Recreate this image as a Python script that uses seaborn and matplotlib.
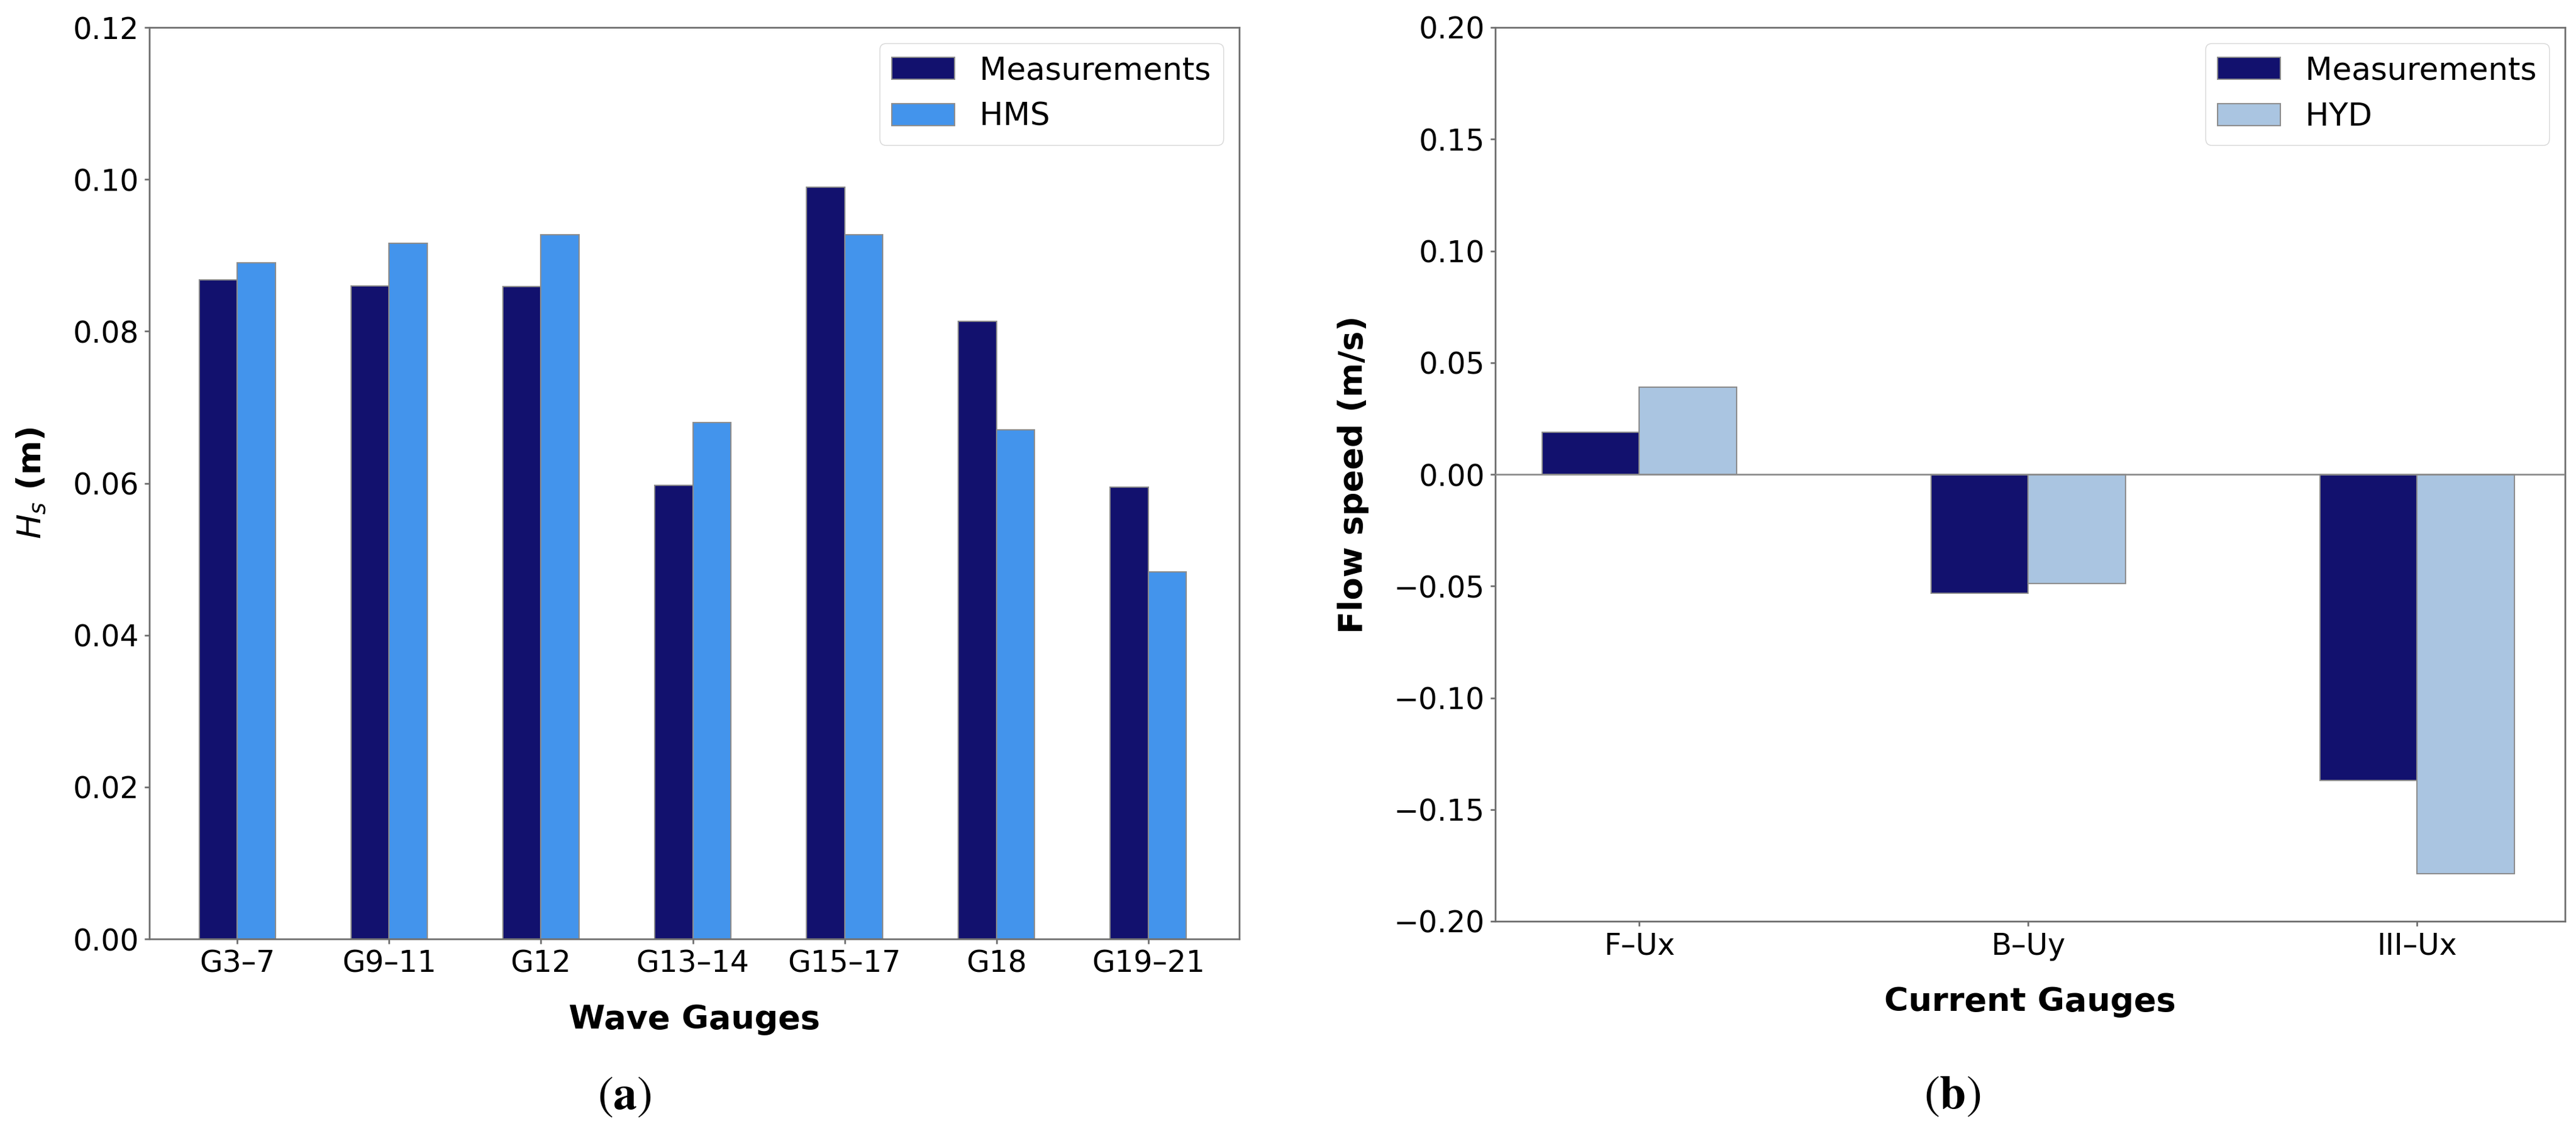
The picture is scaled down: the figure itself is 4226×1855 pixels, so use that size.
import matplotlib
matplotlib.use("Agg")
import matplotlib.pyplot as plt
import seaborn as sns
import pandas as pd
import numpy as np

# ---- data ----
wave_gauges = ["G3–7", "G9–11", "G12", "G13–14", "G15–17", "G18", "G19–21"]
hs_measurements = [0.0868, 0.0860, 0.0859, 0.0597, 0.0990, 0.0813, 0.0595]
hs_hms = [0.0890, 0.0916, 0.0927, 0.0680, 0.0927, 0.0670, 0.0483]

current_gauges = ["F–Ux", "B–Uy", "III–Ux"]
flow_measurements = [0.0188, -0.0531, -0.1370]
flow_hyd = [0.0389, -0.0489, -0.1787]

left_ticks = [0.00, 0.02, 0.04, 0.06, 0.08, 0.10, 0.12]
right_ticks = [-0.20, -0.15, -0.10, -0.05, 0.00, 0.05, 0.10, 0.15, 0.20]

c_meas = "#12116E"
c_hms = "#4394EC"
c_hyd = "#AAC5E1"

df_a = pd.DataFrame({
    "gauge": wave_gauges * 2,
    "value": hs_measurements + hs_hms,
    "series": ["Measurements"] * len(wave_gauges) + ["HMS"] * len(wave_gauges),
})
df_b = pd.DataFrame({
    "gauge": current_gauges * 2,
    "value": flow_measurements + flow_hyd,
    "series": ["Measurements"] * len(current_gauges) + ["HYD"] * len(current_gauges),
})

W, H = 4226, 1855
fig = plt.figure(figsize=(W / 100, H / 100), dpi=100)
ax1 = fig.add_axes([245 / W, 1 - 1540 / H, 1788 / W, 1495 / H])
ax2 = fig.add_axes([2453 / W, 1 - 1511 / H, 1755 / W, 1466 / H])

sns.barplot(data=df_a, x="gauge", y="value", hue="series", ax=ax1,
            palette={"Measurements": c_meas, "HMS": c_hms},
            width=0.5, edgecolor="#8c8c8c", linewidth=1.5, saturation=1)
sns.barplot(data=df_b, x="gauge", y="value", hue="series", ax=ax2,
            palette={"Measurements": c_meas, "HYD": c_hyd},
            width=0.5, edgecolor="#8c8c8c", linewidth=1.5, saturation=1)

ax2.axhline(0, color="#8c8c8c", lw=2, zorder=3)

ax1.set_xlim(-0.58, 6.60)
ax1.set_ylim(0, 0.12)
ax1.set_yticks(left_ticks)
ax1.set_yticklabels([f"{t:.2f}" for t in left_ticks])
ax2.set_xlim(-0.37, 2.38)
ax2.set_ylim(-0.20, 0.20)
ax2.set_yticks(right_ticks)
ax2.set_yticklabels([f"{t:.2f}".replace("-", "\u2212") for t in right_ticks])

ax1.set_xlabel("Wave Gauges", fontsize=39, fontweight="bold", labelpad=30)
ax1.set_ylabel("$H_s$ (m)", fontsize=39, fontweight="bold", labelpad=30)
ax2.set_xlabel("Current Gauges", fontsize=39, fontweight="bold", labelpad=30)
ax2.set_ylabel("Flow speed (m/s)", fontsize=39, fontweight="bold", labelpad=30)

for ax in (ax1, ax2):
    ax.tick_params(labelsize=35, length=6, width=2, color="#707070", pad=6)
    for s in ax.spines.values():
        s.set_color("#707070")
        s.set_linewidth(2)
    handles, labels = ax.get_legend_handles_labels()
    ax.legend(handles, labels, loc="upper right", fontsize=37, title=None,
              handlelength=2.0, handleheight=0.7)

fig.text(1024 / W, 1 - 1797 / H, r"$(\mathbf{a})$", ha="center", va="center",
         fontsize=56, math_fontfamily="stix")
fig.text(3203 / W, 1 - 1796 / H, r"$(\mathbf{b})$", ha="center", va="center",
         fontsize=56, math_fontfamily="stix")

fig.savefig("out.png", dpi=100, facecolor="white")
